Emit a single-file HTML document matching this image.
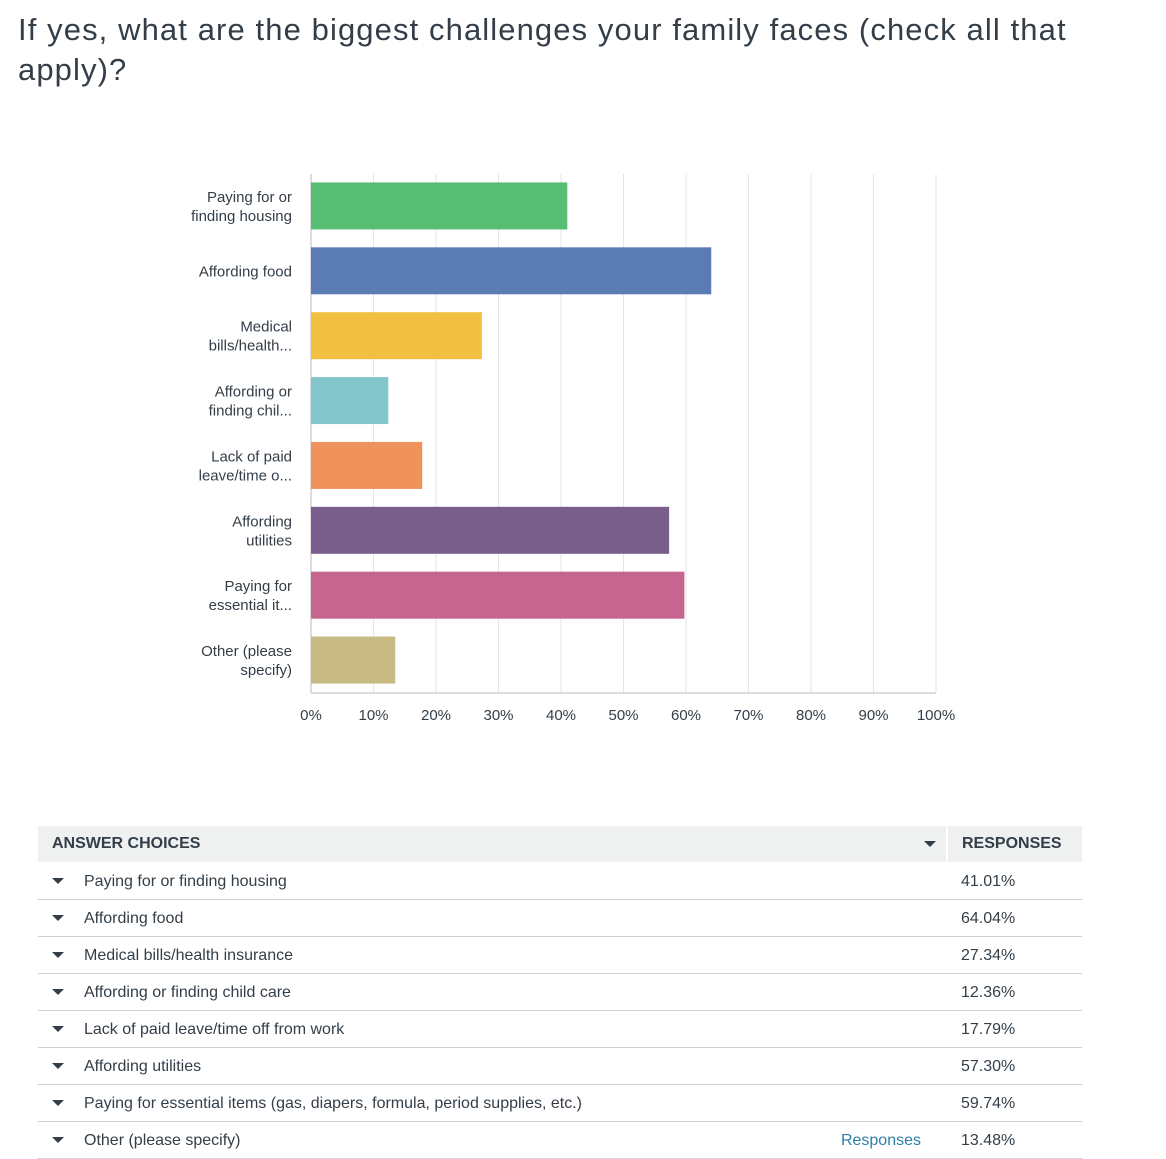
<!DOCTYPE html>
<html><head><meta charset="utf-8"><style>
body{margin:0;background:#fff;width:1166px;height:1158px;overflow:hidden;font-family:"Liberation Sans",sans-serif;color:#333e48;position:relative}
#title{position:absolute;left:18px;top:10px;width:1140px;font-size:31px;line-height:40px;letter-spacing:1.1px;color:#333e48;font-weight:normal;margin:0}
svg{position:absolute;left:0;top:0}
table{position:absolute;left:38px;top:826px;width:1044px;border-collapse:collapse;font-size:16px}
th{background:#eff0f0;text-align:left;font-weight:bold;height:36px;padding:0 14px;font-size:16px;color:#333e48}
td{height:37px;border-bottom:1px solid #d0d0d0;padding:3px 0 0 0;box-sizing:border-box;color:#333e48}
.tri{display:inline-block;width:0;height:0;border-left:6px solid transparent;border-right:6px solid transparent;border-top:6px solid #333e48;margin:0 20px 2px 14px}
</style></head><body>
<h1 id="title">If yes, what are the biggest challenges your family faces (check all that<br>apply)?</h1>
<svg id="chart" width="1166" height="760"></svg>
<table>
<thead><tr><th style="position:relative">ANSWER CHOICES<span class="tri" style="position:absolute;right:10px;top:15px;margin:0"></span></th><th style="width:106px;border-left:2px solid #fff">RESPONSES</th></tr></thead>
<tbody id="tb"></tbody></table>
<script>
const categories=["Paying for or|finding housing","Affording food","Medical|bills/health...","Affording or|finding chil...","Lack of paid|leave/time o...","Affording|utilities","Paying for|essential it...","Other (please|specify)"];
const fullNames=["Paying for or finding housing","Affording food","Medical bills/health insurance","Affording or finding child care","Lack of paid leave/time off from work","Affording utilities","Paying for essential items (gas, diapers, formula, period supplies, etc.)","Other (please specify)"];
const values=[41.01,64.04,27.34,12.36,17.79,57.30,59.74,13.48];
const colors=["#57bd72","#5a7bb4","#f1c040","#82c5ca","#ef925c","#7a5e8c","#c6668f","#c7bb83"];
const ticks=[0,10,20,30,40,50,60,70,80,90,100];
const svg=document.getElementById('chart');const NS='http://www.w3.org/2000/svg';
const x0=311,x1=936,yTop=174,yBot=693;
const xs=v=>x0+(x1-x0)*v/100;
const step=(yBot-yTop)/categories.length;
function mk(t,a){const e=document.createElementNS(NS,t);for(const k in a)e.setAttribute(k,a[k]);svg.appendChild(e);return e;}
ticks.forEach(t=>{
 const l=mk('line',{x1:xs(t),x2:xs(t),y1:yTop,y2:yBot,stroke:t===0?'#bbb':'#e5e5e5','stroke-width':1});
 
 
 const tx=mk('text',{x:xs(t),y:720,'text-anchor':'middle','font-size':15,fill:'#333e48'});tx.textContent=t+'%';
 
 
});
mk('line',{x1:x0,x2:x1,y1:yBot,y2:yBot,stroke:'#bbb'});
categories.forEach((c,i)=>{
 const cy=yTop+step*(i+0.5);
 const r=mk('rect',{x:x0,y:cy-24,width:xs(values[i])-x0,height:47,fill:colors[i]});
 
 
 const parts=c.split('|');
 parts.forEach((p,j)=>{
  const t=mk('text',{x:292,y:cy+5+(j-(parts.length-1)/2)*19,'text-anchor':'end','font-size':15,fill:'#333e48'});t.textContent=p;
  
  
 });
});
const tb=document.getElementById('tb');
fullNames.forEach((n,i)=>{
 const tr=document.createElement('tr');
 
 
 const extra=i===7?'<span style="float:right;margin-right:26px;color:#2f7fa8">Responses</span>':'';
 tr.innerHTML='<td><span class="tri"></span>'+n+extra+'</td><td style="padding-left:14px">'+values[i].toFixed(2)+'%</td>';
 tb.appendChild(tr);
});
</script>
</body></html>
